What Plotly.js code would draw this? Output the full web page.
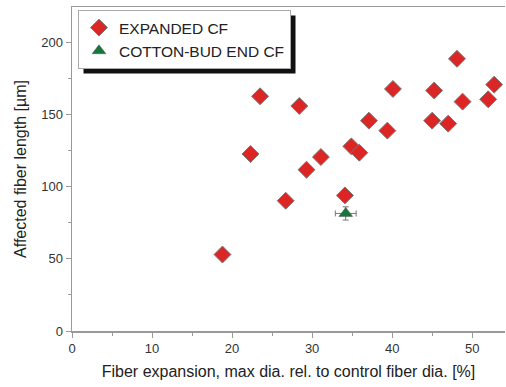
<!DOCTYPE html>
<html>
<head>
<meta charset="utf-8">
<script src="https://cdn.plot.ly/plotly-3.0.1.min.js"></script>
<style>html,body{margin:0;padding:0;background:#fff;}#chart{width:506px;height:387px;}</style>
</head>
<body>
<div id="chart"></div>
<script>
// Expanded CF data
var expandedX = [18.8, 22.3, 23.5, 26.7, 28.4, 29.3, 31.1, 34.1, 34.9, 35.9, 37.1, 39.4, 40.1, 45.0, 45.25, 47.0, 48.1, 48.8, 52.0, 52.75];
var expandedY = [53, 122.7, 162.7, 90.3, 156, 111.8, 120.6, 94, 128, 123.6, 145.8, 138.9, 167.8, 145.8, 166.7, 143.75, 188.7, 159, 160.6, 170.8];
// Cotton-bud end CF data (mean with error bars)
var cottonX = [34.2];
var cottonY = [81.5];
var cottonXErr = [1.3];
var cottonYErr = [4.6];
var seriesNames = ["EXPANDED CF", "COTTON-BUD END CF"];

var W = 506, H = 387;
var L = 72, R = 1, T = 7, B = 56;
var pw = W - L - R, ph = H - T - B;
function px(v){ return (v - L) / pw; }
function py(v){ return (H - B - v) / ph; }

var traces = [
  {
    x: expandedX, y: expandedY, type: 'scatter', mode: 'markers', name: seriesNames[0],
    marker: {symbol: 'diamond', size: 13, color: '#dc2626', line: {color: '#777', width: 1}},
    cliponaxis: false
  },
  {
    x: cottonX, y: cottonY, type: 'scatter', mode: 'markers', name: seriesNames[1],
    marker: {symbol: 'triangle-up', size: 12, color: '#17773a', line: {color: '#555', width: 0.5}},
    error_x: {type: 'data', array: cottonXErr, visible: true, color: '#777', thickness: 1, width: 3},
    error_y: {type: 'data', array: cottonYErr, visible: true, color: '#777', thickness: 1, width: 3},
    cliponaxis: false
  }
];

var layout = {
  width: W, height: H,
  margin: {l: L, r: R, t: T, b: B},
  paper_bgcolor: '#fff', plot_bgcolor: '#fff',
  font: {family: 'Liberation Sans, Arial, sans-serif', color: '#333', size: 13},
  showlegend: true,
  legend: {
    x: px(78), y: py(10), xanchor: 'left', yanchor: 'top',
    bgcolor: '#fff', bordercolor: '#aaa', borderwidth: 1,
    font: {size: 15.5, color: '#222'},
    tracegroupgap: 0, itemwidth: 30
  },
  xaxis: {
    range: [0, 54.1], showgrid: false, zeroline: false,
    showline: true, linecolor: '#999', linewidth: 1.5, mirror: true,
    ticks: 'outside', ticklen: 5, tickcolor: '#999', tickwidth: 1,
    tickvals: [0, 10, 20, 30, 40, 50],
    minor: {tickvals: [5, 15, 25, 35, 45], ticks: 'outside', ticklen: 3, tickcolor: '#999'},
    tickfont: {size: 13, color: '#333'},
    title: {text: 'Fiber expansion, max dia. rel. to control fiber dia. [%]', font: {size: 16, color: '#222'}, standoff: 10}
  },
  yaxis: {
    range: [0, 224.6], showgrid: false, zeroline: false,
    showline: true, linecolor: '#999', linewidth: 1.5,
    ticks: 'outside', ticklen: 5, tickcolor: '#999', tickwidth: 1,
    tickvals: [0, 50, 100, 150, 200],
    minor: {tickvals: [25, 75, 125, 175], ticks: 'outside', ticklen: 3, tickcolor: '#999'},
    tickfont: {size: 13, color: '#333'},
    title: {text: 'Affected fiber length [µm]', font: {size: 16, color: '#222'}, standoff: 10}
  },
  shapes: []
};

Plotly.newPlot('chart', traces, layout, {displayModeBar: false, staticPlot: true}).then(function(gd){
  var bg = gd.querySelector('.legend .bg');
  if (!bg) return;
  var r = bg.getBoundingClientRect();
  var c = gd.getBoundingClientRect();
  var x0 = r.left - c.left + 5, x1 = r.right - c.left + 5;
  var y0 = r.top - c.top + 5, y1 = r.bottom - c.top + 5;
  return Plotly.relayout(gd, {shapes: [
    {type: 'rect', xref: 'paper', yref: 'paper', x0: px(x0), x1: px(x1), y0: py(y1), y1: py(y0),
     fillcolor: '#111', line: {width: 0}, layer: 'above'}
  ]});
});
</script>
</body>
</html>
